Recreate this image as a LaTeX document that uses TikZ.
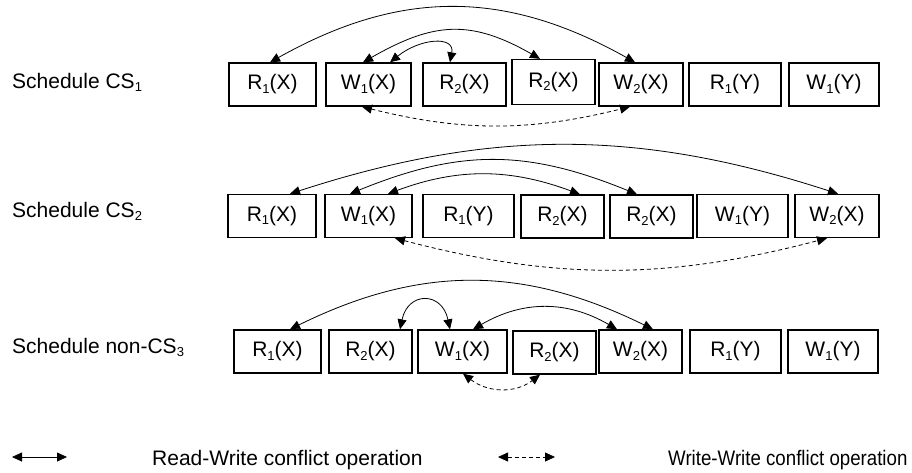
\documentclass[tikz,border=0pt]{standalone}
\usepackage{fontspec}
\setmainfont{Liberation Sans}
\usetikzlibrary{arrows.meta}
% lowered index for operation names
\newcommand{\lo}[1]{\raisebox{-3.5pt}{\fontsize{13}{13}\selectfont #1}}
\begin{document}
\begin{tikzpicture}[x=1pt,y=-1pt,
  op/.style={draw,line width=1.4pt,minimum height=43pt,inner sep=0pt,
    font=\fontsize{21}{25}\selectfont},
  tip/.tip={Triangle[length=10pt,width=9pt]},
  rw/.style={tip-tip,line width=0.8pt},
  ww/.style={rw,dash pattern=on 4pt off 3pt},
  lbl/.style={anchor=base west,inner sep=0pt,font=\fontsize{21}{25}\selectfont}]
\useasboundingbox (0,0) rectangle (912,472);

% schedule names
\node[lbl] (l1) at (12,88) {Schedule CS\lo{1}};
\node[lbl] (l2) at (12,217) {Schedule CS\lo{2}};
\node[lbl] (l3) at (12,353) {Schedule non-CS\lo{3}};

% schedule CS1
\node[op,minimum width=87pt] (a1) at (272.5,84.5) {R\lo{1}(X)};
\node[op,minimum width=85pt] (a2) at (368.5,84.5) {W\lo{1}(X)};
\node[op,minimum width=83pt] (a3) at (464.5,84.5) {R\lo{2}(X)};
\node[op,minimum width=83pt,minimum height=45pt] (a4) at (553.5,82) {R\lo{2}(X)};
\node[op,minimum width=84pt] (a5) at (641,84.5) {W\lo{2}(X)};
\node[op,minimum width=92pt] (a6) at (735,84.5) {R\lo{1}(Y)};
\node[op,minimum width=90pt] (a7) at (834,84.5) {W\lo{1}(Y)};

% schedule CS2
\node[op,minimum width=88pt] (b1) at (272,216) {R\lo{1}(X)};
\node[op,minimum width=87pt] (b2) at (368.5,216) {W\lo{1}(X)};
\node[op,minimum width=91pt] (b3) at (468.5,216) {R\lo{1}(Y)};
\node[op,minimum width=83pt] (b4) at (562.5,216.5) {R\lo{2}(X)};
\node[op,minimum width=83pt] (b5) at (651.5,216.5) {R\lo{2}(X)};
\node[op,minimum width=91pt] (b6) at (742.5,216) {W\lo{1}(Y)};
\node[op,minimum width=84pt] (b7) at (837,216) {W\lo{2}(X)};

% schedule non-CS3
\node[op,minimum width=87pt] (c1) at (277.5,351.5) {R\lo{1}(X)};
\node[op,minimum width=83pt] (c2) at (370.5,351.5) {R\lo{2}(X)};
\node[op,minimum width=89pt] (c3) at (462.5,351.5) {W\lo{1}(X)};
\node[op,minimum width=83pt] (c4) at (554.5,352.5) {R\lo{2}(X)};
\node[op,minimum width=83pt] (c5) at (640.5,351.5) {W\lo{2}(X)};
\node[op,minimum width=91pt] (c6) at (735.5,351.5) {R\lo{1}(Y)};
\node[op,minimum width=90pt] (c7) at (833,351.5) {W\lo{1}(Y)};

% conflicts in CS1
\draw[rw] ([xshift=-2.5pt]a1.north) .. controls +(130,-73) and +(-130,-73) .. ([xshift=-6pt]a5.north);
\draw[rw] ([xshift=-5.5pt]a2.north) .. controls +(70,-40) and +(-70,-40) .. ([xshift=-13.5pt]a4.north);
\draw[rw] ([xshift=21.5pt]a2.north) .. controls +(30,-24) and +(5,-27) .. ([xshift=-14.5pt]a3.north);
\draw[ww] ([xshift=-6.5pt]a2.south) .. controls +(100,25) and +(-100,25) .. ([xshift=-11pt]a5.south);

% conflicts in CS2
\draw[rw] ([xshift=18pt]b1.north) .. controls +(200,-65) and +(-200,-65) .. ([xshift=1pt]b7.north);
\draw[rw] ([xshift=-18.5pt]b2.north) .. controls +(110,-45) and +(-110,-45) .. ([xshift=-14.5pt]b5.north);
\draw[rw] ([xshift=19.5pt]b2.north) .. controls +(70,-26) and +(-70,-26) .. ([xshift=17.5pt]b4.north);
\draw[ww] ([xshift=26.5pt]b2.south) .. controls +(160,42) and +(-160,42) .. ([xshift=-10pt]b7.south);

% conflicts in non-CS3
\draw[rw] ([xshift=12.5pt]c1.north) .. controls +(130,-64) and +(-130,-64) .. ([xshift=12.5pt]c5.north);
\draw[rw] ([xshift=29.5pt]c2.north) .. controls +(8,-38) and +(-8,-38) .. ([xshift=-12.5pt]c3.north);
\draw[rw] ([xshift=10.5pt]c3.north) .. controls +(50,-29) and +(-50,-29) .. ([xshift=-23.5pt]c5.north);
\draw[ww] ([xshift=0.5pt]c3.south) .. controls +(25,19) and +(-25,19) .. ([xshift=-14.5pt]c4.south);

% legend
\coordinate (k1) at (12,457);
\coordinate (k2) at (67,457);
\coordinate (k3) at (498,457);
\coordinate (k4) at (555,457);
\draw[rw] (k1) -- (k2);
\draw[ww] (k3) -- (k4);
\node[lbl] (t1) at (152,465) {Read-Write conflict operation};
\node[lbl] (t2) at (668,465) {\scalebox{0.89}[1]{Write-Write conflict operation}};
\end{tikzpicture}
\end{document}
